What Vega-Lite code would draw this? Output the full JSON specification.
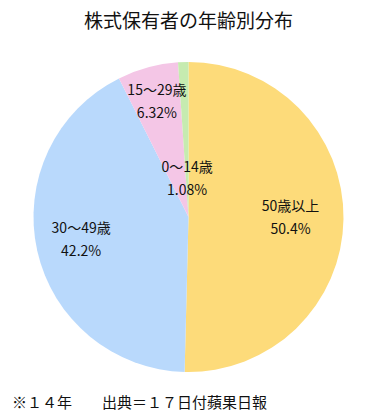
{
  "$schema": "https://vega.github.io/schema/vega-lite/v6.json",
  "padding": {"top": 13, "left": 0, "right": 0, "bottom": 0},
  "background": "white",
  "config": {"view": {"stroke": null}, "font": "Noto Sans CJK JP"},
  "title": {"text": "※１４年　　出典＝１７日付蘋果日報", "orient": "bottom", "anchor": "start", "dx": 12, "offset": 24, "fontSize": 15, "fontWeight": "normal", "color": "#111", "font": "Noto Sans CJK JP"},
  "vconcat": [
    {
      "title": {"text": "株式保有者の年齢別分布", "fontSize": 19, "fontWeight": "normal", "offset": 30, "color": "#111", "font": "Noto Sans CJK JP"},
      "width": 377,
      "height": 310,
      "data": {"values": [
        {"age": "50歳以上", "pct": 50.4, "label": "50歳以上\n50.4%"},
        {"age": "30〜49歳", "pct": 42.2, "label": "30〜49歳\n42.2%"},
        {"age": "15〜29歳", "pct": 6.32, "label": "15〜29歳\n6.32%"},
        {"age": "0〜14歳", "pct": 1.08, "label": "0〜14歳\n1.08%"}
      ]},
      "encoding": {
        "theta": {"field": "pct", "type": "quantitative", "stack": true},
        "order": {"field": "age", "sort": "descending"}
      },
      "layer": [
        {
          "mark": {"type": "arc", "outerRadius": 155, "stroke": null},
          "encoding": {
            "color": {"field": "age", "type": "nominal", "legend": null,
              "scale": {"domain": ["50歳以上", "30〜49歳", "15〜29歳", "0〜14歳"],
                        "range": ["#FDDB7A", "#B9D9FC", "#F4C6E6", "#C6EBB0"]}}
          }
        },
        {
          "mark": {"type": "text", "radius": 102, "dy": -11, "fontSize": 14, "lineBreak": "\n", "lineHeight": 23, "color": "#111", "font": "Noto Sans CJK JP"},
          "encoding": {
            "text": {"condition": {"test": "datum.age == '50歳以上'", "field": "label"}, "value": ""}
          }
        },
        {
          "mark": {"type": "text", "radius": 110, "dy": -12, "fontSize": 14, "lineBreak": "\n", "lineHeight": 23, "color": "#111", "font": "Noto Sans CJK JP"},
          "encoding": {
            "text": {"condition": {"test": "datum.age == '30〜49歳'", "field": "label"}, "value": ""}
          }
        },
        {
          "mark": {"type": "text", "radius": 120, "dy": -10, "fontSize": 14, "lineBreak": "\n", "lineHeight": 23, "color": "#111", "font": "Noto Sans CJK JP"},
          "encoding": {
            "text": {"condition": {"test": "datum.age == '15〜29歳'", "field": "label"}, "value": ""}
          }
        },
        {
          "mark": {"type": "text", "radius": 40, "dy": -9, "fontSize": 14, "lineBreak": "\n", "lineHeight": 23, "color": "#111", "font": "Noto Sans CJK JP"},
          "encoding": {
            "text": {"condition": {"test": "datum.age == '0〜14歳'", "field": "label"}, "value": ""}
          }
        }
      ]
    }
  ]
}
